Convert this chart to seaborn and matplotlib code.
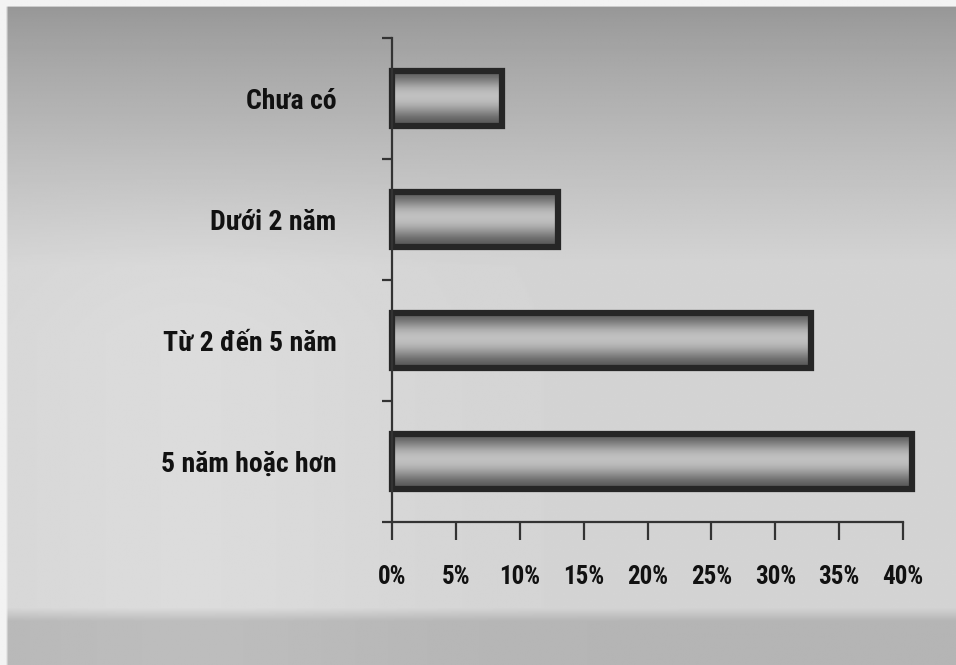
import numpy as np
import pandas as pd
import matplotlib
matplotlib.use("Agg")
import matplotlib.pyplot as plt
import seaborn as sns
from matplotlib.ticker import FixedLocator, FuncFormatter
from matplotlib import font_manager

# Kinh nghiệm làm việc (tỷ lệ %)
categories = ["Chưa có", "Dưới 2 năm", "Từ 2 đến 5 năm", "5 năm hoặc hơn"]
shares = [8.6, 13.0, 32.8, 40.7]
x_ticks = [0, 5, 10, 15, 20, 25, 30, 35, 40]

df = pd.DataFrame({"nhom": categories, "ty_le": shares})

sns.set_theme(style="white")
names = {f.name for f in font_manager.fontManager.ttflist}
narrow = [n for n in ["Roboto Condensed", "Liberation Sans Narrow", "Liberation Sans"]
          if n in names]
plt.rcParams["font.family"] = narrow + ["DejaVu Sans"]

fig = plt.figure(figsize=(9.56, 6.65), dpi=100)

# Grey paper-like background: darker along the top, lighter in the middle,
# a darker strip along the bottom
bg = fig.add_axes([0, 0, 1, 1], zorder=-10)
h, w = 400, 400
yy, xx = np.mgrid[0:1:h * 1j, 0:1:w * 1j]
shade = 0.58 + 0.25 * np.clip(yy / 0.4, 0, 1) ** 0.8
shade += 0.03 * np.exp(-((xx - 0.2) ** 2) / 0.05) * np.clip((yy - 0.2) / 0.3, 0, 1)
shade -= 0.12 * np.clip((yy - 0.915) / 0.02, 0, 1)
shade = np.where((yy < 0.008) | (xx < 0.006), 0.95, shade)
shade = np.clip(shade, 0, 1)
bg.imshow(shade, cmap="gray", vmin=0, vmax=1, aspect="auto", extent=[0, 1, 1, 0],
          interpolation="bilinear")
bg.axis("off")

ax = fig.add_axes([392 / 956, (665 - 522) / 665, (903 - 392) / 956, (522 - 38) / 665])
ax.patch.set_alpha(0)

sns.barplot(data=df, x="ty_le", y="nhom", orient="h", width=0.46,
            color="#9a9a9a", edgecolor="#262626", linewidth=4.5, ax=ax)

# vertical shaded fill inside each bar
grad = np.array([0.36, 0.46, 0.60, 0.72, 0.76, 0.74, 0.66, 0.54, 0.42, 0.34])[:, None]
for bar in ax.patches:
    bar.set_clip_on(False)
    x0, y0 = bar.get_x(), bar.get_y()
    bw, bh = bar.get_width(), bar.get_height()
    im = ax.imshow(grad, cmap="gray", vmin=0, vmax=1, aspect="auto",
                   extent=[x0, x0 + bw, y0 + bh, y0], interpolation="bicubic",
                   zorder=bar.get_zorder() - 0.1)
    im.set_clip_path(bar)
    bar.set_facecolor("none")

ax.set_xlim(0, 40)
ax.set_ylim(3.5, -0.5)
ax.set_xlabel("")
ax.set_ylabel("")

for side in ["top", "right"]:
    ax.spines[side].set_visible(False)
for side in ["left", "bottom"]:
    ax.spines[side].set_color("#333333")
    ax.spines[side].set_linewidth(1.6)

ax.xaxis.set_major_locator(FixedLocator(x_ticks))
ax.xaxis.set_major_formatter(FuncFormatter(lambda v, p: f"{v:.0f}%"))
ax.tick_params(axis="x", direction="out", length=13, width=1.6, color="#333333",
               pad=18, labelsize=18, labelcolor="#111111", bottom=True)
ax.yaxis.set_minor_locator(FixedLocator([-0.5, 0.5, 1.5, 2.5, 3.5]))
ax.tick_params(axis="y", which="minor", direction="out", length=7, width=1.6,
               color="#333333", left=True)
ax.tick_params(axis="y", which="major", length=0, pad=40, labelsize=20,
               labelcolor="#111111")
for lab in ax.get_xticklabels() + ax.get_yticklabels():
    lab.set_fontweight("bold")

fig.savefig("out.png", dpi=100)
